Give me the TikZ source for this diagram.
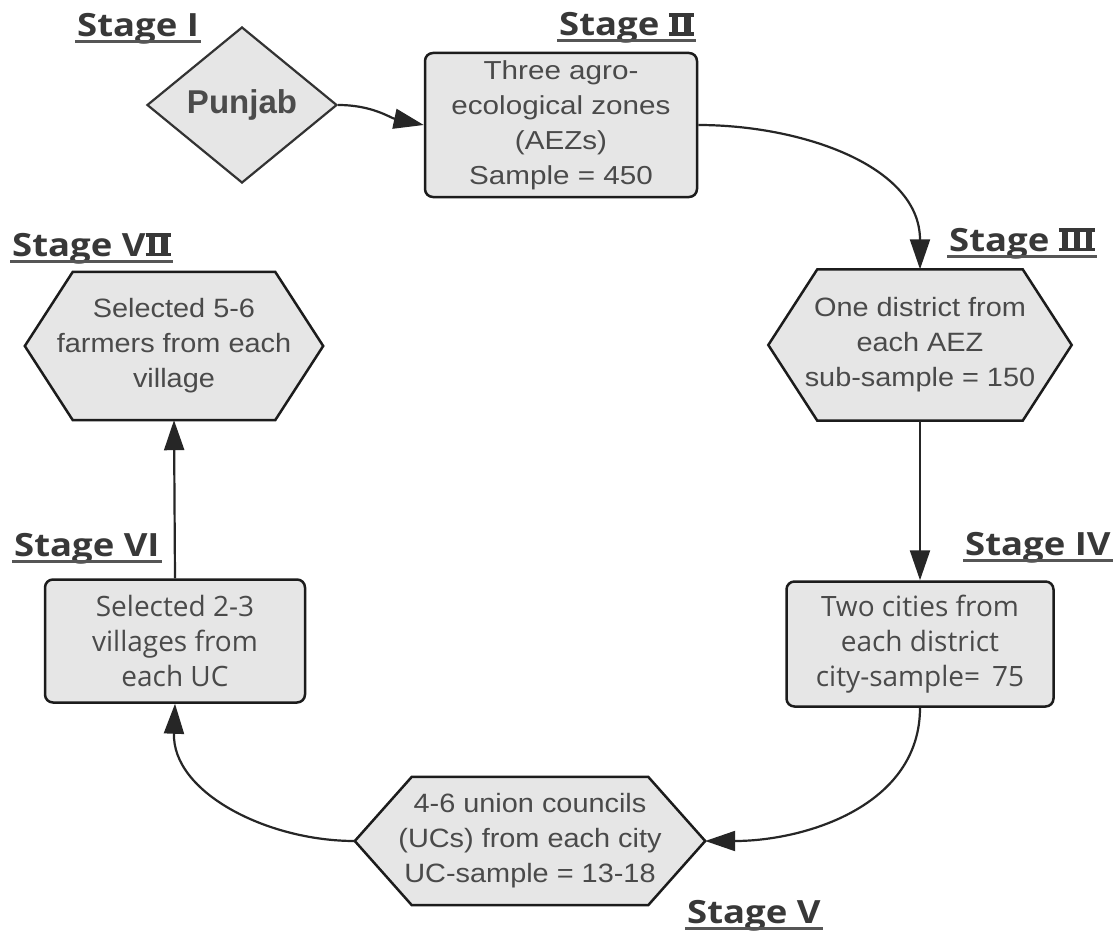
\documentclass[tikz,border=0pt]{standalone}
\usepackage{fontspec}
\setmainfont{Liberation Sans}
\newfontfamily\boxfont[FakeStretch=1.09]{Liberation Sans}
\newfontfamily\boxwide[FakeStretch=1.14]{Liberation Sans}
\newfontfamily\segfont{Open Sans}
\newfontfamily\labfont[FakeStretch=1.14]{Open Sans}
\usetikzlibrary{shapes.geometric,arrows.meta}
\pgfdeclarelayer{bgzero}
\pgfdeclarelayer{background}
\pgfsetlayers{bgzero,background,main}
\definecolor{fillg}{HTML}{E6E6E6}
\definecolor{edge}{HTML}{1C1C1C}
\definecolor{txt}{HTML}{4A4A4A}
\definecolor{labc}{HTML}{383838}
\definecolor{connc}{HTML}{262626}
\newcommand\romII{\mbox{\rlap{\rule{25pt}{3.5pt}}\rlap{\rule[19.3pt]{25pt}{3.5pt}}\kern3pt\rule{6.5pt}{22.8pt}\kern6pt\rule{6.5pt}{22.8pt}\kern3pt}}
\newcommand\romIII{\mbox{\rlap{\rule{36pt}{3.5pt}}\rlap{\rule[19.3pt]{36pt}{3.5pt}}\kern3pt\rule{6pt}{22.8pt}\kern6pt\rule{6pt}{22.8pt}\kern6pt\rule{6pt}{22.8pt}\kern3pt}}
\begin{document}
\begin{tikzpicture}[x=1pt,y=1pt,
  stagelab/.style={inner sep=0pt, anchor=base west, font=\labfont\bfseries\fontsize{32}{36}\selectfont, text=labc},
  uline/.style={draw=labc!85, line width=3pt},
  boxa/.style={draw=edge, line width=2.5pt, fill=fillg, rounded corners=8pt, inner sep=0pt, align=center, text=txt, font=\boxwide\fontsize{26}{35}\selectfont},
  boxb/.style={boxa, font=\segfont\fontsize{28}{35}\selectfont},
  hexnode/.style={draw=none, inner sep=0pt, align=center, text=txt, font=\boxfont\fontsize{26.5}{35}\selectfont},
  hexline/.style={draw=edge, line width=2.5pt, fill=fillg, line join=miter},
  diam/.style={diamond, draw=edge!90, line width=2.2pt, fill=fillg, inner sep=0pt, aspect=1.22, text=labc!90, font=\bfseries\fontsize{33}{36}\selectfont},
  conn/.style={draw=connc, line width=2.2pt, -{Triangle[length=30pt,width=20pt]}}
]
\begin{pgfonlayer}{bgzero}
\fill[white] (0,0) rectangle (1116,-934);
\end{pgfonlayer}
\useasboundingbox (0,0) rectangle (1116,-934);

% stage labels
\node[stagelab] (l1) at (77,-37) {Stage I};
\node[stagelab] (l2) at (559,-36) {Stage \romII};
\node[stagelab] (l3) at (949,-251) {Stage \romIII};
\node[stagelab] (l4) at (965,-555) {Stage IV};
\node[stagelab] (l5) at (687,-923) {Stage V};
\node[stagelab] (l6) at (14,-556) {Stage VI};
\node[stagelab] (l7) at (12,-256) {Stage V\romII};
\foreach \n in {l1,l2,l3,l4,l5,l6,l7}{
  \draw[uline] ([xshift=-2pt,yshift=-5pt]\n.base west) -- ([xshift=2pt,yshift=-5pt]\n.base east);
}

% nodes
\node[diam, minimum width=190pt, minimum height=156pt] (pj) at (242,-105) {Punjab};
\node[boxa, minimum width=272pt, minimum height=144pt] (b2) at (561,-125)
  {Three agro-\\ecological zones\\(AEZs)\\Sample = 450};
\node[hexnode, minimum width=303pt, minimum height=151pt] (h3) at (920,-345)
  {One district from\\each AEZ\\sub-sample = 150};
\node[boxb, minimum width=267pt, minimum height=125pt] (b4) at (920,-644)
  {Two cities from\\each district\\city-sample= \,75};
\node[hexnode, minimum width=350pt, minimum height=128pt] (h5) at (530,-841)
  {4-6 union councils\\(UCs) from each city\\UC-sample = 13-18};
\node[boxb, minimum width=260pt, minimum height=123pt] (b6) at (175,-641)
  {Selected 2-3\\villages from\\each UC};
\node[hexnode, minimum width=298pt, minimum height=148pt] (h7) at (174,-346)
  {Selected 5-6\\farmers from each\\village};

\begin{pgfonlayer}{background}
\draw[hexline] (h3.west) -- ([xshift=49pt]h3.north west) -- ([xshift=-49pt]h3.north east) -- (h3.east) -- ([xshift=-49pt]h3.south east) -- ([xshift=49pt]h3.south west) -- cycle;
\draw[hexline] (h5.west) -- ([xshift=57pt]h5.north west) -- ([xshift=-57pt]h5.north east) -- (h5.east) -- ([xshift=-57pt]h5.south east) -- ([xshift=57pt]h5.south west) -- cycle;
\draw[hexline] (h7.west) -- ([xshift=48pt]h7.north west) -- ([xshift=-48pt]h7.north east) -- (h7.east) -- ([xshift=-48pt]h7.south east) -- ([xshift=48pt]h7.south west) -- cycle;
\end{pgfonlayer}

% connectors
\draw[conn] (pj.east) to[out=0,in=168] (b2.west);
\draw[conn] (b2.east) to[out=0,in=90] (h3.north);
\draw[conn] (h3.south) -- (b4.north);
\draw[conn] (b4.south) to[out=-90,in=0] (h5.east);
\draw[conn] (h5.west) to[out=180,in=-92] (b6.south);
\draw[conn] (b6.north) -- (h7.south);
\end{tikzpicture}
\end{document}
